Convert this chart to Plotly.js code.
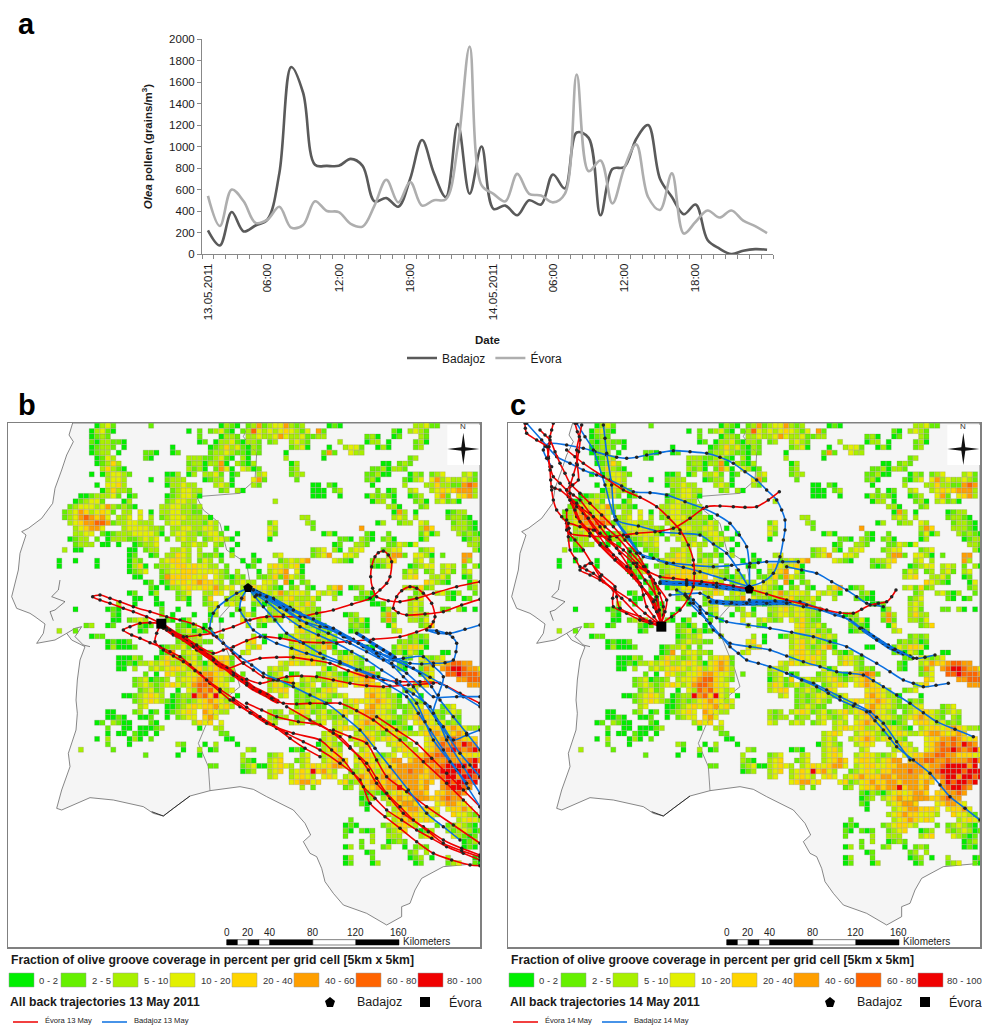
<!DOCTYPE html>
<html><head><meta charset="utf-8">
<script src="https://cdn.plot.ly/plotly-3.0.1.min.js"></script>
<style>html,body{margin:0;padding:0;background:#fff;overflow:hidden}#c{width:982px;height:1026px}</style>
</head><body><div id="c"></div>
<script>
// ---------- panel a : hourly pollen counts ----------
const hourLabels = {0:'13.05.2011',5:'06:00',11:'12:00',17:'18:00',24:'14.05.2011',29:'06:00',35:'12:00',41:'18:00'};
const badajoz = [220,80,390,210,265,320,750,1740,1500,830,820,820,885,820,490,520,440,700,1060,750,530,1210,560,1000,420,450,360,500,460,740,610,1130,1080,360,790,810,1070,1200,700,530,370,460,130,50,0,30,45,40];
const evora = [540,260,600,490,290,320,440,245,270,490,400,390,280,255,450,690,480,670,450,500,510,1000,1930,640,560,490,745,560,545,480,560,1670,770,870,470,800,1020,530,410,750,190,300,405,340,405,310,260,195];
// ---------- olive grid: "column:classes" per grid row (class 1..8) ----------
const classNames = ['0 - 2','2 - 5','5 - 10','10 - 20','20 - 40','40 - 60','60 - 80','80 - 100'];
const classColors = ['#00ef00','#66f000','#a8f000','#e2f000','#ffd500','#ff9f00','#ff6400','#f00000'];
const gridRows = [
"16:1342 26:2 39:1321 44:2362 48:34463 53:23 59:121 75:3342 79:2",
"15:13421 33:1 35:2 37:23421 43:23743 48:43454 53:324 57:62 71:21 74:3432",
"15:1232 35:2 39:1332 44:3343 48:34643 53:3422 57:33 66:231 71:12 76:32",
"15:213322 21:1 35:12 38:133421 44:332 48:23 52:3432 61:3 66:133 70:1 75:231",
"15:12332 21:1 30:1 37:123534 43:2132 52:2341 59:1 62:344 65:2 68:13 70:1 75:23",
"15:1233 20:1 25:22 27:1 30:12 37:233432 43:2132 51:1 58:262 63:433",
"16:1243 25:21 33:3332 37:23421 43:31 51:3 58:1 74:23",
"16:12353 33:2331 37:3361 42:3213 52:13 69:11 72:232",
"17:35321 33:3231 38:2641 43:4312 52:23 67:2231 71:332",
"15:1 17:134432 29:113 33:13 36:3342 41:12 46:34 52:233 66:22311 74:132 78:234 84:342",
"18:3443 26:1 29:2333 36:1233 41:1 45:462 53:2 66:231 73:2134 78:463433 84:432",
"16:1 18:4453 29:133433 38:3431 45:32 56:11 59:21 67:1 73:3 77:3353322 84:676",
"17:135332 30:234433 39:23 42:31 56:111 60:23 68:2 70:12 74:34 78:345 81:45 83:6663",
"13:1123 17:3342 22:12 29:1234431 56:111 61:1 66:132 69:321 74:123 79:4 80:62 83:4563",
"12:123442 21:13 29:234433 49:3 67:133 71:1 75:231 79:3423 83:1",
"11:2344434 18:6 19:3 20:2321 28:334433 34:23 70:331 76:23",
"10:234653 16:454 19:2 21:33 24:4 26:1 28:3344332 35:2 71:163 75:1 81:1233",
"10:23467 15:6564 20:334 24:4 26:3 28:2344433 35:33 37:1 54:33 71:343 75:3 81:23321",
"11:34566 16:776 19:233443 25:33 29:34433 34:332 37:43 48:24 55:32 68:13 72:233 76:43 82:23321",
"12:3456 16:64 21:3444 25:4332 30:334433 36:443 40:1 48:43 56:2 65:6 76:365 82:33321",
"12:3344 17:2 18:1 19:23 21:3344 25:443 28:1 30:344332 36:3442 42:1 48:42 58:131 66:21 70:2 76:241 79:3 83:32321",
"11:1233 16:2 18:133 21:32 23:234 26:34 29:2 31:3433 36:2344 40:31 48:1 61:221 65:321 69:231 76:13 84:1233",
"12:2333 17:11 20:1 23:12 25:334 32:334 35:33 38:32 42:1 60:12 64:332 70:22431 75:4 85:332",
"10:3 12:11 22:11 25:233 30:3343 35:3 38:2 41:1 56:234 60:31 63:344 69:2344 76:234 86:31",
"22:12 26:12 29:33543 35:32 37:231 41:3 45:1 49:34 56:2346 62:4 63:43 70:3662 75:4431 80:2 84:66",
"9:1 12:1 16:1 22:1 23:32 28:3 29:45543 35:243 39:2 43:1 45:21 50:234 53:356 60:43 62:21 67:23 69:345 75:34 78:3 84:63",
"9:1 16:1 22:13 24:5 25:1 27:23 29:345545 35:4433 40:2 44:12 48:45 50:43 52:451 67:21 69:24 74:1 75:2344 80:343 84:2 86:31",
"22:1 23:2 24:34 28:234 31:455544 37:4432 42:3 46:1 48:3 49:456 53:41 73:2 74:43 77:23 80:342 84:34",
"23:11 28:23 29:6 30:55554 35:45 38:4321 42:32 46:22 48:35 50:26 52:43 54:2 73:345 78:3342 84:12",
"25:1 26:2 28:125454 34:5655 38:43 41:2343 45:3 47:4 48:43 51:61 54:23 77:54321 85:14",
"26:21 29:13 31:3454 35:4546 39:34 41:4 43:3254 47:43 49:21 52:23 55:21 59:356 63:1 64:23 73:34 75:25 77:23 85:23",
"22:12 26:13 31:234 36:3354 41:343 45:234 48:34634 53:443 57:4343 61:1 65:231 75:23 79:34213 86:2",
"23:11 27:1 31:231 36:25 40:3336 45:433 48:23345 53:3 54:3342 60:3 64:2211 74:234 81:21 84:12",
"20:3 23:1 27:11 33:1 36:234 40:343 45:231 48:234434 54:353 67:112 74:343",
"12:1 18:12 20:1 28:2 31:1 37:34 42:23 45:1 48:3345 52:344 55:332 69:13 74:342 80:22 83:31 86:1",
"19:21 28:2 30:1 34:1 37:13 41:1 43:34 45:2 48:2344 52:3443 56:32 62:123 69:363 74:3533",
"19:11 22:23 24:43 29:21 32:13 37:2 39:1 43:4 46:34 48:3 49:23 52:4353 56:22 63:3241 69:262 74:3324",
"14:23 18:12 24:212 31:2213 36:1 44:3 46:21 53:453342 63:2321 70:14 76:235",
"9:3 12:2 24:12 31:23413 36:12 53:4534232 63:1232 71:34",
"15:122 31:123 34:34 39:3 45:3 47:1 50:12343 55:345343 74:2323",
"18:12 20:112 31:2343 35:322 44:45 47:1 52:345342321 72:232312",
"18:131 21:112 28:123 31:342 35:2 44:435 52:345323561 66:1 67:1 71:2435541",
"28:12 30:6 32:3443 36:32 43:34 52:4554353 60:3213 71:23143 76:1 80:11",
"20:11132 27:135432 33:342 37:3455 41:2 52:3454543 61:34432 73:22 76:43234",
"20:11213 25:34 27:3453 31:34543 36:1 37:4565 41:2 50:43543 55:4533 61:35432 72:21 76:3465 80:567766",
"20:11 23:3 26:34 28:34 30:5 31:54 33:3453 37:4 38:565 41:3 48:3433 58:413 64:3232 72:21 76:264 80:67887664",
"25:2 27:1 29:543 32:3 33:4 34:4566 38:54 40:43 43:2 48:234 52:12 57:234321 63:456762 76:234 81:7787776",
"23:234 26:12 28:23 31:34 33:45677 38:54 40:32 48:13425 54:343 57:334532 63:34565 77:54 83:667777",
"23:2343 27:234543 33:4 34:6776 38:54 40:4 48:354234 54:234 58:23454 64:45654 75:345 85:666",
"24:2342 28:3 31:1 33:43 35:767 38:54 40:34 48:3455 53:23432 58:454 66:45543 73:234",
"21:11234 26:543 30:1 31:23 33:3 34:8 35:67 37:58 39:43 42:1 50:34 53:2323443 60:234 66:5654331 76:1",
"23:23454 28:3 29:2 30:1232 34:3456 38:54 40:34 53:2323432 62:3454 66:4565432 74:232",
"24:34 29:1 30:123 33:4545 37:5645 41:3 53:234322 62:234 66:5654432 73:2344 80:234",
"18:11 23:23 26:12 29:12 31:3454 36:65 38:43 40:3 48:323 52:3454 56:234 59:2345 63:345664432 73:2345543 80:2343",
"18:1121 24:11 26:2 29:1 31:2344 36:56 38:4 48:3233 53:233 57:343 60:234 64:345654432 73:34565432 82:32",
"16:12 19:3211 26:21 34:3 35:545 39:4 48:43 52:343 56:234 60:343 64:4565432123 75:455434232",
"18:2 21:11 24:111 27:23 35:1 38:33 60:3454 64:453345 69:354321 76:345545654332",
"18:1 20:11 23:2 24:11 27:1 39:22 58:3454 64:345432 70:34543 75:3456654565",
"16:1 18:3 22:1 23:31 26:2 40:11 58:343 63:34565 68:345432 77:4556676545",
"18:2 22:1 31:3 32:2 36:1 38:3 42:1 57:13432 64:3454 70:34543 77:4567676876",
"13:3 19:2 32:1 35:3 37:12 44:3 45:2 52:121 58:3453 65:34 71:34543 77:45677876785",
"25:2 31:1 35:1 43:3 48:234 54:34 58:3454 64:34543 69:234 73:445566776655544",
"43:321 48:345 53:234 58:34565 64:45543 69:4566 74:56677667666786",
"37:22 43:2341 47:1 48:34543 54:3454 58:45664 64:34554 69:45566 74:66656 79:67888868",
"43:123 48:345 52:3454 56:856 59:43 63:234543 69:5566 73:6766 77:5678 81:8887888",
"48:34 52:34543 58:454 62:34565 67:55665 72:66665 77:56 79:678868878",
"52:456 55:6 56:45 61:45 63:234565 69:56656 74:66565 80:6878878",
"54:3 56:2 62:23 65:4556 69:566 72:8 73:56656 80:678876",
"65:21321 70:3454 74:5665 79:556676",
"65:123 69:3454 72:6 73:5565 74:55665 79:56766",
"65:21 70:345564 73:6 74:45 79:456654",
"66:1 71:34566 76:5554 81:45564",
"70:3456554 77:443 82:54432",
"63:2 71:3456 75:5454 83:34543",
"62:12 64:1 69:2 70:345 73:543 79:2 81:234321",
"62:21 65:2 66:12 70:2345 76:123 81:3234312",
"62:2 67:3 70:333 76:345 82:43212",
"65:2 67:3 70:123 73:2 84:123",
"62:1 63:3 65:2 69:23 73:1 75:232 84:121",
"66:12 74:23 77:3",
"62:13 67:2 74:123 78:1 81:3 86:12",
"62:12 67:13 75:12 81:234 86:21"
];
// ---------- geography (map units, same for both maps) ----------
const coastU = [218,207,220,200,185,165,158,125,85,65,78,60,55,35,50,90,105,135,130,110,165,200,215,255,240,232,228,232,228,205,210,185,170,185,270,340,430,460,490,520,570,630,720,760,800,880,915,932,910,930,950,965,975,1000,1030,1100,1160,1205,1205,1230,1245,1265,1330,1440,1440,218];
const coastV = [9,45,65,105,150,205,250,295,325,335,345,400,450,530,565,580,590,612,640,670,660,640,660,680,720,780,840,880,930,1000,1040,1110,1165,1170,1133,1140,1160,1180,1188,1165,1128,1112,1100,1108,1130,1170,1210,1245,1265,1300,1310,1345,1385,1420,1455,1480,1515,1490,1460,1450,1410,1375,1340,1330,9,9];
const borderU = [745,730,770,765,720,590,610,660,680,740,750,660,660,690,705,720,670,620,595,625,630];
const borderV = [15,50,100,180,220,230,270,310,390,430,490,590,640,710,750,800,840,910,970,1040,1112];
const estuaryU = [180,175,155,195,165,150,160];
const estuaryV = [480,510,530,545,570,575,602];
const sadoU = [200,225,245,225,250,270];
const sadoV = [640,625,620,650,675,680];
const ria1U = [455,490,520,570];
const ria1V = [1175,1188,1165,1128];
// ---------- trajectories, panel b : [u,v,u,v,...], line width ----------
const trajB = {
 red: [
  [[484,615,500,625,515,635,530,645,545,652,560,662,575,672,590,682,605,692,620,705,635,715,650,728,665,738,680,745,695,758,710,768,725,780,740,790,760,805,780,815,800,825,820,838,835,845],5],
  [[484,611,440,590,400,575,370,565,330,550,300,540,278,530,300,525,330,535,360,545,400,560,450,575,500,590,540,600,580,612,610,625,640,645,670,670,700,700,730,730,760,750,790,770,830,780,880,790],1.6],
  [[484,611,450,608,420,610,390,620,370,630,395,645,420,655,450,668,480,680,510,695,540,710,570,735,600,760,630,790,660,815,690,840,720,860,755,880,790,900,830,925,870,955,915,985,960,1010],1.6],
  [[484,611,470,640,465,665,490,690,520,708,550,725,585,752,620,780,660,808,700,835,740,862,780,890,820,915,860,940,910,965,960,990,1020,1030,1080,1080,1110,1150,1155,1190,1200,1225,1250,1265,1300,1300,1355,1320,1410,1335,1440,1337],1.6],
  [[484,620,520,645,560,650,600,645,640,640,670,630,700,620,750,600,800,590,850,590,900,590,950,580,1000,570,1055,553,1110,535,1140,510,1160,490,1170,470,1175,425,1165,405,1150,393,1135,398,1125,410,1115,440,1112,470,1118,505,1130,530,1165,542,1200,545,1250,535,1300,520,1370,500,1440,485],1.6],
  [[490,625,550,650,590,675,640,700,670,690,700,680,740,662,780,650,840,655,900,665,970,668,1040,665,1120,658,1200,650,1250,636,1290,620,1300,605,1305,590,1295,550,1270,520,1250,505,1230,500,1205,512,1190,530,1180,565,1195,578,1220,585,1275,582,1330,575,1385,555,1440,538],1.6],
  [[500,630,550,660,600,690,640,718,680,745,730,728,780,715,830,712,880,712,935,720,990,730,1045,752,1100,770,1150,780,1200,785,1260,785,1320,790,1380,820,1440,850],1.6],
  [[520,640,590,690,650,730,700,760,740,778,780,790,820,780,860,770,905,768,950,770,1000,780,1050,790,1100,797,1150,800,1225,795,1300,790],1.6],
  [[510,630,580,680,640,720,700,765,740,795,780,815,815,835,850,850,890,852,930,850,975,850,1020,850,1070,872,1120,900,1160,930,1200,960,1270,1025,1340,1090,1390,1140,1440,1190],1.6],
  [[700,840,750,878,800,910,880,940,960,960,995,990,1030,1020,1060,1060,1090,1100,1125,1135,1160,1170,1205,1200,1250,1230,1295,1255,1340,1280,1390,1300,1440,1320],1.6],
  [[740,850,785,870,830,890,895,905,960,915,990,932,1020,950,1050,980,1080,1015,1105,1050,1130,1090,1170,1135,1210,1180,1270,1220,1330,1260,1385,1285,1440,1305],1.6],
  [[860,860,930,900,1000,940,1050,985,1100,1030,1130,1075,1160,1120,1200,1160,1240,1200,1285,1235,1330,1270,1385,1292,1440,1310],1.6],
  [[1000,930,1050,950,1100,970,1130,1020,1160,1070,1220,1115,1280,1160,1360,1215,1440,1270],1.6],
  [[1130,890,1190,930,1250,970,1295,1015,1340,1060,1390,1110,1440,1160],1.6]
 ],
 blue: [
  [[744,504,760,510,775,518,790,525,805,532,820,540],4],
  [[1070,640,1090,652,1110,665,1130,678,1150,690,1170,702,1185,712],3.5],
  [[744,504,770,515,800,530,850,555,900,580,950,605,1000,630,1050,655,1100,680,1140,700,1180,720,1220,738,1260,760,1295,800,1320,840,1360,890,1400,940,1440,990],1.6],
  [[744,504,765,530,790,560,825,600,860,640,910,670,960,700,1020,725,1080,750,1135,770,1190,790,1240,822,1290,860,1318,910,1340,960,1390,1040,1440,1120],1.6],
  [[744,504,710,520,680,540,655,560,640,580,630,625,650,650,670,670,695,690,720,710,755,735,790,760,835,780,880,800,930,825,980,850,1030,888,1080,930,1125,985,1170,1040,1225,1110,1280,1180,1330,1220,1380,1260],1.6],
  [[744,504,725,535,720,570,738,600,760,630,795,652,830,670,875,685,920,700,970,715,1020,730,1070,750,1120,770,1170,798,1220,830,1255,880,1290,930,1330,990,1370,1050,1405,1105,1440,1160],1.6],
  [[744,504,780,520,820,535,870,562,920,590,975,620,1030,650,1085,675,1140,700,1185,715,1230,730,1265,732,1300,730,1335,728,1360,720,1368,695,1370,670,1358,652,1340,640,1310,632,1280,630,1315,640,1350,640,1395,628,1440,615],1.6],
  [[744,504,795,530,850,560,915,590,980,620,1035,650,1090,680,1135,710,1180,740,1210,770,1240,800,1275,850,1310,900,1345,950,1380,1000,1410,1035,1440,1070],1.6],
  [[744,504,770,525,800,545,850,585,900,620,955,645,1010,670,1055,695,1100,720,1145,750,1190,780,1220,815,1250,850,1275,905,1300,960,1350,1025,1400,1090],1.6],
  [[760,510,820,540,880,570,940,597,1000,625,1060,658,1120,690,1180,718,1240,745,1290,772,1340,800,1390,830,1440,860],1.6],
  [[780,525,840,562,900,600,960,620,1020,640,1075,670,1130,700,1175,730,1220,760,1260,795,1300,830,1370,830,1440,830],1.6],
  [[800,530,860,570,920,610,985,640,1050,670,1100,695,1150,720,1210,715,1270,710,1300,738,1330,770,1315,825,1300,880,1330,920,1360,960,1400,945,1440,930],1.6]
 ]
};
// ---------- trajectories, panel c ----------
const trajC = {
 red: [
  [[484,620,462,590,440,560,430,525,420,490,390,445,360,400,330,360,300,320,270,280,240,240,220,225,200,210,180,190,160,170,150,140,145,110,147,80,150,50,155,30,160,10],1.6],
  [[484,610,490,585,490,560,478,520,460,480,435,440,410,400,375,360,340,320,305,285,270,250,240,220,210,190,195,160,180,130,165,95,150,60,135,45,120,30],1.6],
  [[484,620,450,610,420,600,380,580,340,560,338,535,340,510,310,485,280,460,260,450,240,440,225,415,210,390,205,350,200,310,185,290,170,270,160,240,155,210,152,180,150,150,145,115,140,80,110,60,80,40,76,25,75,10],1.6],
  [[484,620,420,590,360,565,350,530,345,500,305,465,270,430,255,438,240,450,270,465,300,480,345,510,390,540,435,580,484,620],1.6],
  [[484,610,495,575,500,540,465,490,430,440,390,395,350,350,315,320,280,290,245,265,215,240,210,220,210,200,220,165,230,130,236,95,240,60,232,35,225,10],1.6],
  [[484,610,470,540,450,470,410,430,370,390,325,360,280,330,240,320,205,310,207,325,210,340,270,348,330,350,370,345,410,340,465,335,520,325,570,295,620,260,660,258,700,260,735,262,770,260,805,240,838,215],1.6],
  [[484,610,515,590,540,570,565,535,580,500,583,460,580,420,565,375,540,330,505,292,470,260,420,232,370,210,310,170,250,130,225,110,200,90],1.6],
  [[484,620,475,580,460,540,420,495,380,450,350,415,320,380,285,330,250,280,230,260,210,240],1.6],
  [[484,615,455,608,430,600,365,535,300,470,275,430,250,390,225,360,200,330,200,300,200,270],1.6],
  [[484,610,478,570,470,530,435,480,400,430,350,385,300,340,265,295,230,250,205,230,180,210,165,205,155,200],1.6],
  [[420,600,450,603,480,605,462,562,440,520,410,480,380,440,340,405,300,370,265,330,230,290,215,250,200,210,218,195,235,180,232,135,230,90,238,50,245,15],1.6],
  [[484,610,470,575,460,545,425,500,395,465,345,420,300,375,270,340,240,305,225,270,210,240],2.4],
  [[1188,510,1175,530,1160,545,1135,550,1110,555,1085,568,1060,580,1020,578,980,570,920,555,860,540,800,522,748,508,700,498,650,490,605,485,560,480,520,475,480,470,445,455,410,440],1.6]
 ],
 blue: [
  [[480,486,500,488,520,490,540,490,560,490,580,490,600,492,620,495,640,497,660,500,680,503,700,505,720,507,740,508],5],
  [[630,545,650,546,670,548,690,549,710,550,730,550,750,550,770,549,790,549,810,549,830,548,850,548,870,549],5],
  [[1090,630,1105,640,1120,650,1135,660,1150,670,1165,680,1180,688,1195,695,1210,702],4],
  [[748,500,790,485,820,460,840,410,850,360,855,330,855,300,845,270,830,240,800,210,770,180,735,155,700,130,660,112,620,100,570,95,520,92,480,98,440,105,410,112,380,115,350,112,320,105,285,95,250,85,200,75,150,70,135,78,130,90,140,115,155,140],1.6],
  [[748,500,748,440,740,380,718,345,690,310,652,285,610,265,555,245,500,225,450,218,400,215,365,198,330,180,290,165,250,150,210,130,170,110,125,60,80,10],1.6],
  [[895,425,848,425,800,425,775,428,750,430,695,436,640,440,580,436,520,430,475,420,430,410,385,350,345,290,335,195,320,100,315,55,310,15],1.6],
  [[748,505,640,490,560,485,480,490,560,495,650,500,748,510],1.6],
  [[1305,705,1275,712,1250,715,1230,708,1210,700,1165,675,1120,650,1085,625,1050,600,1005,585,960,570,910,560,860,550,800,550,740,550,695,548,650,545,625,532,600,520,555,522,510,525],1.6],
  [[1345,790,1308,796,1270,800,1240,790,1210,780,1170,755,1130,730,1085,705,1040,680,990,665,940,650,875,637,810,625,745,615,680,605,650,593,620,580,600,560,580,540,555,525,530,510],1.6],
  [[1420,950,1365,928,1310,905,1270,878,1230,850,1190,825,1150,800,1120,782,1090,765,1050,760,1010,755,960,740,910,725,860,708,810,690,750,680,690,670,665,650,640,630,620,600,600,570,580,550,560,530],1.6],
  [[1230,1020,1190,965,1150,910,1130,892,1110,875,1065,852,1020,830,980,810,940,790,875,765,810,740,775,730,740,720,715,700,690,680,660,645,630,610,600,580,570,550],1.6],
  [[1440,1200,1395,1165,1350,1130,1320,1095,1290,1060,1240,1020,1190,980,1170,955,1150,930,1125,902,1100,875,1060,858,1020,840,985,820,950,800,905,780,860,760],1.6],
  [[860,440,905,450,950,460,995,485,1040,510,1070,530,1100,550,1125,555,1150,560],1.6],
  [[748,500,675,478,600,455,550,442,500,430,460,415,420,400,380,350,345,300],1.6],
  [[748,505,715,450,680,400,640,372,600,345,540,340,480,335,415,318,350,300,315,195,280,90,255,50,230,10],1.6],
  [[748,540,825,542,900,545,965,568,1030,590,1080,625,1130,660,1185,688,1240,715],1.6]
 ]
};
const cityBadajoz = {b:[744,504], c:[748,508]};
const cityEvora = {b:[484,611], c:[484,620]};
// ---------- scale bar ----------
const scaleKm = [0,20,40,80,120,160];
const scaleBreaks = [0,10,20,30,40,80,120,160];
// ---------- layout constants ----------
const W=982,H=1026;
const px=x=>x/W, py=y=>1-y/H;
const UMAX=1440,UMIN=24,VMIN=9,VMAX=1581,CELL=16.2;

const traces=[];
function cells(axX,axY){
  classColors.forEach((col,k)=>{
    const xs=[],ys=[];
    gridRows.forEach((row,r)=>{
      row.trim().split(' ').forEach(sp=>{
        const [c0,cl]=sp.split(':');
        [...cl].forEach((ch,i)=>{ if(+ch===k+1){xs.push(UMIN+CELL*(+c0+i+.5));ys.push(VMIN+CELL*(r+.5));} });
      });
    });
    traces.push({x:xs,y:ys,xaxis:axX,yaxis:axY,type:'scatter',mode:'markers',showlegend:false,hoverinfo:'skip',
      marker:{symbol:'square',size:5,color:col,line:{width:.4,color:'rgba(120,120,90,.6)'}}});
  });
}
function mapBase(axX,axY){
  traces.push({x:coastU,y:coastV,xaxis:axX,yaxis:axY,type:'scatter',mode:'lines',fill:'toself',fillcolor:'#f5f5f5',
    line:{color:'#555',width:.7},showlegend:false,hoverinfo:'skip'});
  [[borderU,borderV,'#666',.7],[estuaryU,estuaryV,'#333',.6],[sadoU,sadoV,'#333',.6],[ria1U,ria1V,'#222',.9]].forEach(b=>{
    traces.push({x:b[0],y:b[1],xaxis:axX,yaxis:axY,type:'scatter',mode:'lines',line:{color:b[2],width:b[3]},showlegend:false,hoverinfo:'skip'});
  });
  cells(axX,axY);
}
function traj(list,color,axX,axY){
  list.forEach(t=>{
    const a=t[0],xs=[],ys=[];
    a.forEach((v,i)=>{(i%2?ys:xs).push(v);});
    traces.push({x:xs,y:ys,xaxis:axX,yaxis:axY,type:'scatter',mode:'lines+markers',showlegend:false,hoverinfo:'skip',
      line:{color:color,width:t[1],shape:'spline',smoothing:.8},marker:{size:3.5,color:'#222',line:{width:0}}});
  });
}
function cities(key,axX,axY){
  traces.push({x:[cityEvora[key][0]],y:[cityEvora[key][1]],xaxis:axX,yaxis:axY,type:'scatter',mode:'markers',showlegend:false,hoverinfo:'skip',marker:{symbol:'square',size:10,color:'#000'}});
  traces.push({x:[cityBadajoz[key][0]],y:[cityBadajoz[key][1]],xaxis:axX,yaxis:axY,type:'scatter',mode:'markers',showlegend:false,hoverinfo:'skip',marker:{symbol:'pentagon',size:10,color:'#000'}});
}
// panel a
const idx=badajoz.map((_,i)=>i);
traces.push({x:idx,y:badajoz,type:'scatter',mode:'lines',name:'Badajoz',line:{color:'#5a5a5a',width:2.6,shape:'spline',smoothing:1},hoverinfo:'skip'});
traces.push({x:idx,y:evora,type:'scatter',mode:'lines',name:'Évora',line:{color:'#aeaeae',width:2.6,shape:'spline',smoothing:1},hoverinfo:'skip'});
// panel b,c
mapBase('x2','y2'); traj(trajB.red,'#ee0000','x2','y2'); traj(trajB.blue,'#0a6fe0','x2','y2'); cities('b','x2','y2');
mapBase('x3','y3'); traj(trajC.blue,'#0a6fe0','x3','y3'); traj(trajC.red,'#ee0000','x3','y3'); cities('c','x3','y3');

const mapAxis=(dom)=>({domain:dom,range:[UMIN,UMAX],showgrid:false,zeroline:false,showticklabels:false,ticks:'',showline:true,mirror:true,linecolor:'#808080',linewidth:1.5});
const mapAxisY=(a)=>({domain:[py(947),py(423)],range:[VMAX,VMIN],anchor:a,showgrid:false,zeroline:false,showticklabels:false,ticks:'',showline:true,mirror:true,linecolor:'#808080',linewidth:1.5});

const shapes=[],ann=[];
const FONT='"Liberation Sans",Arial,sans-serif';
function txt(x,y,t,size,opts={}){ann.push(Object.assign({x:px(x),y:py(y),xref:'paper',yref:'paper',text:t,showarrow:false,xanchor:'left',yanchor:'middle',align:'left',font:{family:FONT,size:size,color:'#1a1a1a'}},opts));}
txt(16,24,'<b>a</b>',29,{font:{family:FONT,size:29,color:'#000'}});
txt(16,405,'<b>b</b>',29,{font:{family:FONT,size:29,color:'#000'}});
txt(508,405,'<b>c</b>',29,{font:{family:FONT,size:29,color:'#000'}});

const swatchX=[9,61,113,170,232,294,356,418];
const swatchLab=[37,90,142,199,261,323,385,445];
function mapDecor(ox,ax,ay,day){
  shapes.push({type:'rect',xref:ax,yref:ay,x0:1342,x1:1440,y0:15,y1:135,fillcolor:'#fff',line:{width:0},layer:'above'});
  shapes.push({type:'path',xref:ax,yref:ay,path:'M1390,38 L1396,82 L1438,87 L1396,92 L1390,135 L1384,92 L1342,87 L1384,82 Z',fillcolor:'#111',line:{width:0},layer:'above'});
  ann.push({xref:ax,yref:ay,x:1390,y:20,text:'N',showarrow:false,font:{family:FONT,size:8,color:'#333'}});
  const kmU=k=>680+k*3.231;
  for(let i=0;i<scaleBreaks.length-1;i++){
    shapes.push({type:'rect',xref:ax,yref:ay,x0:kmU(scaleBreaks[i]),x1:kmU(scaleBreaks[i+1]),y0:1559,y1:1575,fillcolor:i%2?'#fff':'#000',line:{width:.5,color:'#000'},layer:'above'});
  }
  scaleKm.forEach(k=>ann.push({xref:ax,yref:ay,x:kmU(k),y:1536,text:String(k),showarrow:false,font:{family:FONT,size:10,color:'#222'}}));
  ann.push({xref:ax,yref:ay,x:1203,y:1565,text:'Kilometers',showarrow:false,xanchor:'left',font:{family:FONT,size:10,color:'#222'}});
  txt(ox+9,960,'<b>Fraction of olive groove coverage in percent per grid cell [5km x 5km]</b>',12.2);
  classColors.forEach((c,i)=>{
    shapes.push({type:'rect',xref:'paper',yref:'paper',x0:px(ox+swatchX[i]),x1:px(ox+swatchX[i]+25),y0:py(987),y1:py(973),fillcolor:c,line:{width:.5,color:'#999'}});
    txt(ox+swatchLab[i],980,classNames[i],9.5,{font:{family:FONT,size:9.5,color:'#333'}});
  });
  txt(ox+8,1002,'<b>All back trajectories '+day+' May 2011</b>',12.2);
  txt(ox+355,1002,'Badajoz',12.5);
  txt(ox+447,1002,'Évora',12.5);
  shapes.push({type:'path',xref:'paper',yref:'paper',path:`M${px(ox+330)},${py(997)} L${px(ox+335)},${py(1001)} L${px(ox+333)},${py(1007)} L${px(ox+327)},${py(1007)} L${px(ox+325)},${py(1001)} Z`,fillcolor:'#000',line:{width:0}});
  shapes.push({type:'rect',xref:'paper',yref:'paper',x0:px(ox+420),x1:px(ox+430),y0:py(1007),y1:py(997),fillcolor:'#000',line:{width:0}});
  shapes.push({type:'line',xref:'paper',yref:'paper',x0:px(ox+13),x1:px(ox+38),y0:py(1022),y1:py(1022),line:{color:'#ee0000',width:1.5}});
  shapes.push({type:'line',xref:'paper',yref:'paper',x0:px(ox+102),x1:px(ox+127),y0:py(1022),y1:py(1022),line:{color:'#0a6fe0',width:1.5}});
  txt(ox+43,1020,'Évora '+day+' May',7.6);
  txt(ox+132,1020,'Badajoz '+day+' May',7.6);
}
mapDecor(0,'x2','y2',13);
mapDecor(500,'x3','y3',14);

const layout={
  width:W,height:H,margin:{l:0,r:0,t:0,b:0},paper_bgcolor:'#fff',plot_bgcolor:'#fff',
  font:{family:FONT,color:'#1a1a1a'},
  showlegend:true,
  legend:{orientation:'h',x:px(485),xanchor:'center',y:py(358),yanchor:'middle',font:{family:FONT,size:12},bgcolor:'rgba(0,0,0,0)',itemwidth:30,traceorder:'normal'},
  xaxis:{domain:[px(202),px(773)],range:[-0.5,47.5],tickmode:'array',tickvals:Object.keys(hourLabels).map(Number),ticktext:Object.values(hourLabels),
    tickangle:-90,ticks:'',ticklabelstandoff:4,tickfont:{family:FONT,size:11.5,color:'#1a1a1a'},showgrid:false,zeroline:false,showline:true,linecolor:'#888',linewidth:1,
    minor:{tick0:-0.5,dtick:1,ticks:'outside',ticklen:4,tickcolor:'#888',showgrid:false},
    title:{text:'<b>Date</b>',font:{family:FONT,size:11.5},standoff:16}},
  yaxis:{domain:[py(254),py(39)],range:[0,2000],dtick:200,ticks:'outside',ticklen:4,tickcolor:'#888',tickfont:{family:FONT,size:11.5,color:'#1a1a1a'},showgrid:false,zeroline:false,showline:true,linecolor:'#888',linewidth:1,
    title:{text:'<b><i>Olea</i> pollen (grains/m<sup>3</sup>)</b>',font:{family:FONT,size:11.5},standoff:14}},
  xaxis2:Object.assign(mapAxis([px(8),px(480)]),{anchor:'y2'}),yaxis2:mapAxisY('x2'),
  xaxis3:Object.assign(mapAxis([px(508),px(980)]),{anchor:'y3'}),yaxis3:mapAxisY('x3'),
  shapes:shapes,annotations:ann
};
Plotly.newPlot('c',traces,layout,{staticPlot:true,displayModeBar:false});
</script></body></html>
